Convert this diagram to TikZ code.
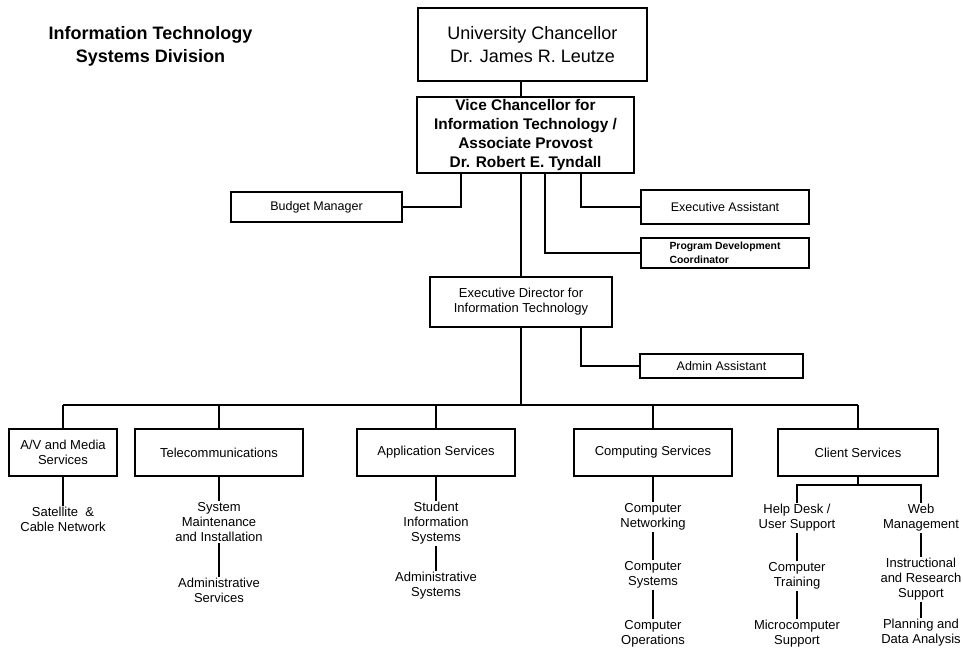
\documentclass[tikz,border=0pt]{standalone}
\usepackage{fontspec}
\setmainfont{Liberation Sans}
\usepackage{tikz}

\begin{document}
\begin{tikzpicture}[x=1pt,y=-1pt,
  unit/.style={draw, line width=1.6pt, align=center, inner sep=0pt, font=\fontsize{13}{15}\selectfont},
  staff/.style={draw, line width=1.6pt, align=center, inner sep=0pt, font=\fontsize{12.5}{15}\selectfont},
  sub/.style={align=center, anchor=north, inner sep=1.5pt, font=\fontsize{13}{15}\selectfont},
  link/.style={line width=1.6pt}]
\useasboundingbox (0,0) rectangle (963,649);

% title
\node[align=center, font=\bfseries\fontsize{18}{23}\selectfont] (title) at (150.5,46.5) {Information Technology\\Systems Division};

% chancellor and vice chancellor
\node[draw, line width=1.6pt, align=center, inner sep=0pt, minimum width=229pt, minimum height=73pt, font=\fontsize{18}{23}\selectfont] (chancellor) at (532.5,44.5) {University Chancellor\\Dr. James R. Leutze};
\node[draw, line width=1.6pt, align=center, inner sep=0pt, minimum width=217pt, minimum height=76pt, font=\bfseries\fontsize{15.4}{18.7}\selectfont] (vicechan) at (525.5,135) {Vice Chancellor for\\Information Technology /\\Associate Provost\\Dr. Robert E. Tyndall};

% staff
\node[staff, minimum width=171pt, minimum height=30pt] (budget) at (316.5,207) {Budget Manager};
\node[staff, minimum width=168pt, minimum height=34pt] (execasst) at (725,207) {Executive Assistant};
\node[staff, minimum width=168pt, minimum height=30pt, align=left, font=\bfseries\fontsize{10.4}{14}\selectfont] (progdev) at (725,253) {Program Development\\Coordinator};
\node[unit, minimum width=182pt, minimum height=50pt] (execdir) at (521,302) {Executive Director for\\Information Technology};
\node[staff, minimum width=163pt, minimum height=24pt] (adminasst) at (721.5,366) {Admin Assistant};

% units
\coordinate (bus) at (0,405);
\node[unit, minimum width=108pt, minimum height=47pt] (avmedia) at (63,452.5) {A/V and Media\\Services};
\node[unit, minimum width=168pt, minimum height=47pt] (telecom) at (219,452.5) {Telecommunications};
\node[unit, minimum width=158pt, minimum height=47pt] (appserv) at (436,452.5) {Application Services};
\node[unit, minimum width=158pt, minimum height=47pt] (compserv) at (653,452.5) {Computing Services};
\node[unit, minimum width=160pt, minimum height=47pt] (clientserv) at (858,452.5) {Client Services};

% groups below the units
\node[sub] (satellite) at (63,505.7) {Satellite~ \&\\Cable Network};
\node[sub] (sysmaint) at (219,500.7) {System\\Maintenance\\and Installation};
\node[sub] (adminserv) at (219,576.7) {Administrative\\Services};
\node[sub] (studinfo) at (436,500.7) {Student\\Information\\Systems};
\node[sub] (adminsys) at (436,570.7) {Administrative\\Systems};
\node[sub] (compnet) at (653,501.7) {Computer\\Networking};
\node[sub] (compsys) at (653,559.7) {Computer\\Systems};
\node[sub] (compops) at (653,618.7) {Computer\\Operations};
\coordinate (cfork) at (0,485);
\node[sub] (helpdesk) at (797,502.7) {Help Desk /\\User Support};
\node[sub] (training) at (797,560.7) {Computer\\Training};
\node[sub] (microsupp) at (797,618.7) {Microcomputer\\Support};
\node[sub] (webmgmt) at (921,502.7) {Web\\Management};
\node[sub] (instres) at (921,556.7) {Instructional\\and Research\\Support};
\node[sub] (planning) at (921,617.7) {Planning and\\Data Analysis};

% top links
\path[draw,link] (chancellor.south -| execdir.north) -- (vicechan.north -| execdir.north);
\path[draw,link] (vicechan.south -| execdir.north) -- (execdir.north);
\path[draw,link] (budget.east) -| ([xshift=-64.5pt]vicechan.south);
\path[draw,link] (execasst.west) -| ([xshift=55.5pt]vicechan.south);
\path[draw,link] (progdev.west) -| ([xshift=19.5pt]vicechan.south);
\path[draw,link] (adminasst.west) -| ([xshift=60pt]execdir.south);

% bus
\path[draw,link] (execdir.south) -- (execdir.south |- bus);
\path[draw,link] (avmedia.north |- bus) -- (clientserv.north |- bus);
\path[draw,link] (avmedia.north) -- (avmedia.north |- bus);
\path[draw,link] (telecom.north) -- (telecom.north |- bus);
\path[draw,link] (appserv.north) -- (appserv.north |- bus);
\path[draw,link] (compserv.north) -- (compserv.north |- bus);
\path[draw,link] (clientserv.north) -- (clientserv.north |- bus);

% lower links
\path[draw,link] (avmedia.south) -- (satellite.north);
\path[draw,link] (telecom.south) -- (sysmaint.north);
\path[draw,link] (sysmaint.south) -- (adminserv.north);
\path[draw,link] (appserv.south) -- (studinfo.north);
\path[draw,link] (studinfo.south) -- (adminsys.north);
\path[draw,link] (compserv.south) -- (compnet.north);
\path[draw,link] (compnet.south) -- (compsys.north);
\path[draw,link] (compsys.south) -- (compops.north);
\path[draw,link] (clientserv.south) -- (clientserv.south |- cfork);
\path[draw,link] (helpdesk.north) -- (helpdesk.north |- cfork) -- (webmgmt.north |- cfork) -- (webmgmt.north);
\path[draw,link] (helpdesk.south) -- (training.north);
\path[draw,link] (training.south) -- (microsupp.north);
\path[draw,link] (webmgmt.south) -- (instres.north);
\path[draw,link] (instres.south) -- (planning.north);
\end{tikzpicture}
\end{document}
